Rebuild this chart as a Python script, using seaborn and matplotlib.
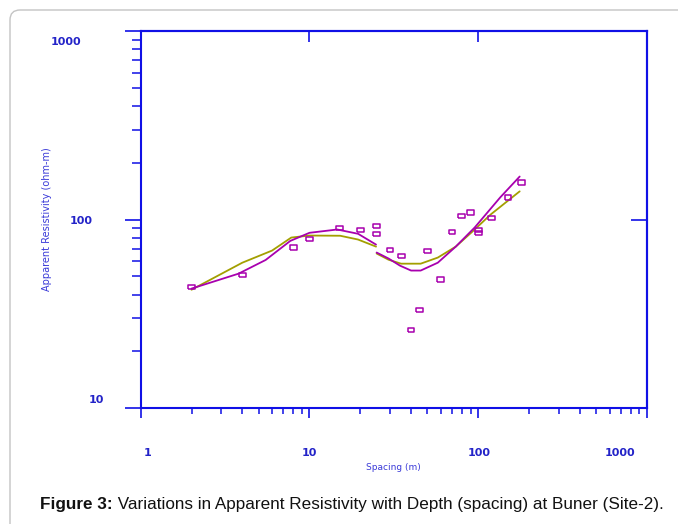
import numpy as np
import pandas as pd
import matplotlib
matplotlib.use("Agg")
import matplotlib.pyplot as plt
from matplotlib.ticker import FixedLocator, NullLocator, NullFormatter, FixedFormatter
from matplotlib.transforms import ScaledTranslation
from matplotlib.patches import FancyBboxPatch
import seaborn as sns

# ---------------- data ----------------
spacing_obs = [2, 4, 8, 10, 15, 20, 25, 25, 30, 35, 40, 45, 50, 60, 70, 80, 90, 100, 100, 120, 150, 180]
rho_obs = [44, 51, 71, 79, 90, 88, 92, 84, 69, 64, 26, 33, 68, 48, 86, 104, 109, 88, 85, 102, 131, 157]

mag_x1 = [2, 3.8, 5.5, 7.7, 10, 14.6, 19.4, 24.8]
mag_y1 = [43, 51.6, 61, 77, 85, 88.5, 84, 73.6]
mag_x2 = [25, 29.4, 34.4, 40, 45.6, 57.6, 73.6, 95.3, 135, 176]
mag_y2 = [66.8, 62.1, 56.9, 53.6, 53.6, 59, 71.8, 90.7, 131, 169]

oli_x1 = [2, 4, 6, 7.8, 10, 15.2, 19.4, 24.8]
oli_y1 = [42.4, 59, 68.4, 80.2, 82.2, 82, 78.3, 71.8]
oli_x2 = [25, 29.4, 34.9, 45.6, 57.6, 73.6, 95.3, 118, 176]
oli_y2 = [66, 61.2, 58.3, 58.3, 62.8, 71.8, 88.5, 106, 141]

x_major = [1, 10, 100, 1000]
x_major_labels = ["1", "10", "100", "1000"]
y_major = [10, 100, 1000]
y_major_labels = ["10", "100", "1000"]

# ---------------- style ----------------
sns.set_theme(style="white")
plt.rcParams['font.family'] = ['DejaVu Sans']

AX_BLUE = "#1010e6"
TXT_BLUE = "#2323c8"
LBL_BLUE = "#3a3ad8"
MAGENTA = "#a800ae"
OLIVE = "#a39f00"

W, H = 678, 524
fig = plt.figure(figsize=(W / 100, H / 100), dpi=100)
ax = fig.add_axes([140.7 / W, 1 - 408 / H, (647 - 140.7) / W, (408 - 31) / H])
ax.set_xscale("log")
ax.set_yscale("log")
ax.set_xlim(1, 1000)
ax.set_ylim(10, 1000)

# curves
for xs, ys, col in [(oli_x1, oli_y1, OLIVE), (oli_x2, oli_y2, OLIVE),
                    (mag_x1, mag_y1, MAGENTA), (mag_x2, mag_y2, MAGENTA)]:
    df = pd.DataFrame({"x": xs, "y": ys})
    sns.lineplot(data=df, x="x", y="y", ax=ax, color=col, lw=1.3, sort=False,
                 estimator=None)

# observed points: open rectangles
rect = [(-1, -0.62), (1, -0.62), (1, 0.62), (-1, 0.62), (-1, -0.62)]
obs = pd.DataFrame({"spacing": spacing_obs, "rho": rho_obs})
sns.scatterplot(data=obs, x="spacing", y="rho", ax=ax, marker=rect, s=24,
                color=MAGENTA, facecolor="none", edgecolor=MAGENTA, linewidth=1.1,
                zorder=5)

ax.set_xlim(1, 1000)
ax.set_ylim(10, 1000)

# spines
for sp in ["left", "bottom", "top", "right"]:
    ax.spines[sp].set_visible(True)
    ax.spines[sp].set_color(AX_BLUE)
    ax.spines[sp].set_linewidth(1.5)

# ticks
ax.xaxis.set_major_locator(FixedLocator(x_major))
ax.xaxis.set_major_formatter(FixedFormatter(x_major_labels))
ax.xaxis.set_minor_locator(FixedLocator([m * d for d in [1, 10, 100] for m in range(2, 10)]))
ax.xaxis.set_minor_formatter(NullFormatter())
ax.yaxis.set_major_locator(FixedLocator(y_major))
ax.yaxis.set_major_formatter(FixedFormatter(y_major_labels))
ax.yaxis.set_minor_locator(FixedLocator([m * d for d in [10, 100] for m in range(2, 10)]))
ax.yaxis.set_minor_formatter(NullFormatter())

ax.tick_params(which="both", bottom=True, left=True, top=False, right=False)
ax.tick_params(axis="x", which="major", direction="out", length=7.5, width=1.2,
               color=AX_BLUE, pad=21, labelsize=8, labelcolor=TXT_BLUE)
ax.tick_params(axis="x", which="minor", direction="out", length=4.2, width=1.1,
               color=AX_BLUE)
ax.tick_params(axis="y", which="major", direction="out", length=11.5, width=1.2,
               color=AX_BLUE, pad=23, labelsize=8, labelcolor=TXT_BLUE)
ax.tick_params(axis="y", which="minor", direction="out", length=6.5, width=1.1,
               color=AX_BLUE)

for lab in ax.get_xticklabels() + ax.get_yticklabels():
    lab.set_fontweight("bold")

# per-label nudges in pixels (dx right, dy down)
xoff = {"1": (7, 0), "10": (0, 0), "100": (1, 0), "1000": (-27, 0)}
yoff = {"10": (11, -9), "100": (0, 0), "1000": (-11, 10)}
for t, lab in zip(ax.xaxis.get_major_ticks(), x_major_labels):
    dx, dy = xoff[lab]
    t.label1.set_transform(t.label1.get_transform() + ScaledTranslation(dx / 100, -dy / 100, fig.dpi_scale_trans))
for t, lab in zip(ax.yaxis.get_major_ticks(), y_major_labels):
    dx, dy = yoff[lab]
    t.label1.set_transform(t.label1.get_transform() + ScaledTranslation(dx / 100, -dy / 100, fig.dpi_scale_trans))

# top and right inward ticks
sec_x = ax.secondary_xaxis("top")
sec_x.set_xticks([10, 100])
sec_x.xaxis.set_minor_locator(NullLocator())
sec_x.tick_params(direction="in", length=8, width=1.2, color=AX_BLUE, labeltop=False)
sec_x.spines["top"].set_color(AX_BLUE)
sec_x.spines["top"].set_linewidth(1.5)
sec_y = ax.secondary_yaxis("right")
sec_y.set_yticks([100])
sec_y.yaxis.set_minor_locator(NullLocator())
sec_y.tick_params(direction="in", length=11.5, width=1.2, color=AX_BLUE, labelright=False)
sec_y.spines["right"].set_color(AX_BLUE)
sec_y.spines["right"].set_linewidth(1.5)

# axis labels
ax.set_xlabel("Spacing (m)", fontsize=6.5, color=LBL_BLUE)
ax.set_ylabel("Apparent Resistivity (ohm-m)", fontsize=7, color=LBL_BLUE)
ax.xaxis.set_label_coords(0.5, -0.146)
ax.yaxis.set_label_coords(-0.175, 0.5)

# frame around figure
frame = FancyBboxPatch((10, -20), W + 20, H - 10 + 20,
                       boxstyle="round,pad=0,rounding_size=10",
                       transform=None, fill=False, edgecolor="#c4c4c4", lw=1.0)
fig.patches.append(frame)

# caption
cap_family = ['Liberation Sans', 'DejaVu Sans']
t1 = fig.text(40 / W, 1 - 505 / H, "Figure 3:", fontsize=12.3, fontweight="bold",
              family=cap_family, va="center", ha="left", color="#111111")
fig.canvas.draw()
ax.annotate(" Variations in Apparent Resistivity with Depth (spacing) at Buner (Site-2).",
            xy=(1, 0.5), xycoords=t1, va="center", ha="left", fontsize=12.3,
            family=cap_family, color="#111111", annotation_clip=False)

fig.savefig("out.png", dpi=100)
